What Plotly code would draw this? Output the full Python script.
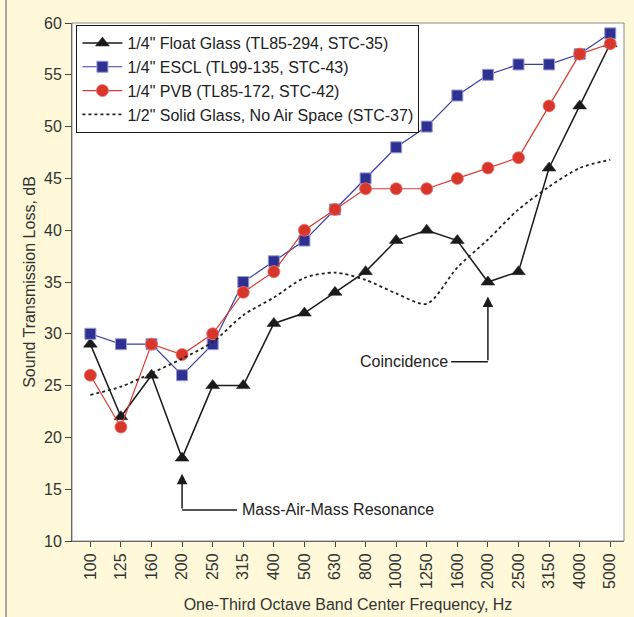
import plotly.graph_objects as go

freqs = ["100", "125", "160", "200", "250", "315", "400", "500", "630", "800",
         "1000", "1250", "1600", "2000", "2500", "3150", "4000", "5000"]
float_glass = [29, 22, 26, 18, 25, 25, 31, 32, 34, 36, 39, 40, 39, 35, 36, 46, 52, 58]
escl = [30, 29, 29, 26, 29, 35, 37, 39, 42, 45, 48, 50, 53, 55, 56, 56, 57, 59]
pvb = [26, 21, 29, 28, 30, 34, 36, 40, 42, 44, 44, 44, 45, 46, 47, 52, 57, 58]
solid = [24.1, 24.9, 26.2, 27.6, 29.2, 31.8, 33.5, 35.4, 35.9, 35.2, 33.9, 32.9,
         36.4, 39.1, 42.0, 44.2, 46.0, 46.8]

names = ['1/4" Float Glass (TL85-294, STC-35)',
         '1/4" ESCL (TL99-135, STC-43)',
         '1/4" PVB (TL85-172, STC-42)',
         '1/2" Solid Glass, No Air Space (STC-37)']

yticks = [10, 15, 20, 25, 30, 35, 40, 45, 50, 55, 60]

FONT = "Liberation Sans, Arial, sans-serif"
TXT = "#333333"
FS = 16

fig = go.Figure()
fig.add_trace(go.Scatter(
    x=freqs, y=float_glass, name=names[0], mode="lines+markers",
    line=dict(color="#1a1a1a", width=1.5),
    marker=dict(symbol="triangle-up", size=12, color="#1a1a1a",
                line=dict(color="#1a1a1a", width=0.5))))
fig.add_trace(go.Scatter(
    x=freqs, y=escl, name=names[1], mode="lines+markers",
    line=dict(color="#3a3ea0", width=1.2),
    marker=dict(symbol="square", size=11, color="#2e3192",
                line=dict(color="#9a9ad0", width=1))))
fig.add_trace(go.Scatter(
    x=freqs, y=pvb, name=names[2], mode="lines+markers",
    line=dict(color="#d83a30", width=1.2),
    marker=dict(symbol="circle", size=12, color="#d8352b",
                line=dict(color="#e87068", width=0.8))))
fig.add_trace(go.Scatter(
    x=freqs, y=solid, name=names[3], mode="lines",
    line=dict(color="#222222", width=1.8, dash="dot", shape="spline", smoothing=0.8)))

shapes = [
    dict(type="rect", xref="paper", yref="paper", x0=0, y0=0, x1=1, y1=1,
         line=dict(color="#8c8c8c", width=1)),
    dict(type="line", xref="paper", yref="paper", x0=-0.1195, x1=-0.1195, y0=-0.16, y1=1.05,
         line=dict(color="#8a8a8a", width=1.5)),
    dict(type="line", xref="x", yref="y", x0=3, x1=4.8, y0=13.0, y1=13.0,
         line=dict(color="#1a1a1a", width=1.5)),
    dict(type="line", xref="x", yref="y", x0=11.8, x1=13, y0=27.3, y1=27.3,
         line=dict(color="#1a1a1a", width=1.5)),
]

annotations = [
    dict(x=3, y=16.5, ax=3, ay=13.0, xref="x", yref="y", axref="x", ayref="y",
         text="", showarrow=True, arrowhead=2, arrowsize=1.4, arrowwidth=1.5,
         arrowcolor="#1a1a1a"),
    dict(x=4.88, y=13.0, xref="x", yref="y", text="Mass-Air-Mass Resonance",
         showarrow=False, xanchor="left", yanchor="middle",
         font=dict(family=FONT, size=FS, color="#222")),
    dict(x=13, y=33.6, ax=13, ay=27.3, xref="x", yref="y", axref="x", ayref="y",
         text="", showarrow=True, arrowhead=2, arrowsize=1.4, arrowwidth=1.5,
         arrowcolor="#1a1a1a"),
    dict(x=11.75, y=27.3, xref="x", yref="y", text="Coincidence",
         showarrow=False, xanchor="right", yanchor="middle",
         font=dict(family=FONT, size=FS, color="#222")),
]

fig.update_layout(
    width=634, height=617,
    margin=dict(l=72, r=10, t=23, b=76),
    paper_bgcolor="#fff9da", plot_bgcolor="#ffffff",
    font=dict(family=FONT, size=FS, color=TXT),
    showlegend=True,
    legend=dict(x=0.008, y=0.996, xanchor="left", yanchor="top",
                bgcolor="#ffffff", bordercolor="#1a1a1a", borderwidth=1,
                font=dict(family=FONT, size=FS, color="#222"),
                tracegroupgap=0, itemwidth=40),
    shapes=shapes, annotations=annotations,
    xaxis=dict(type="category", categoryorder="array", categoryarray=freqs,
               range=[-0.6, 17.45], tickangle=-90, ticks="outside", ticklen=5,
               tickcolor="#444", showline=True, linecolor="#444", linewidth=1,
               showgrid=False, zeroline=False, automargin=False,
               tickfont=dict(family=FONT, size=FS, color=TXT),
               title=dict(text="One-Third Octave Band Center Frequency, Hz",
                          font=dict(family=FONT, size=FS, color=TXT), standoff=10)),
    yaxis=dict(range=[10, 60], tickvals=yticks, ticks="outside", ticklen=6,
               tickcolor="#444", showline=True, linecolor="#444", linewidth=1,
               showgrid=False, zeroline=False, automargin=False,
               tickfont=dict(family=FONT, size=FS, color=TXT),
               title=dict(text="Sound Transmission Loss, dB",
                          font=dict(family=FONT, size=FS, color=TXT), standoff=4)),
)

fig.write_html("out.html")
